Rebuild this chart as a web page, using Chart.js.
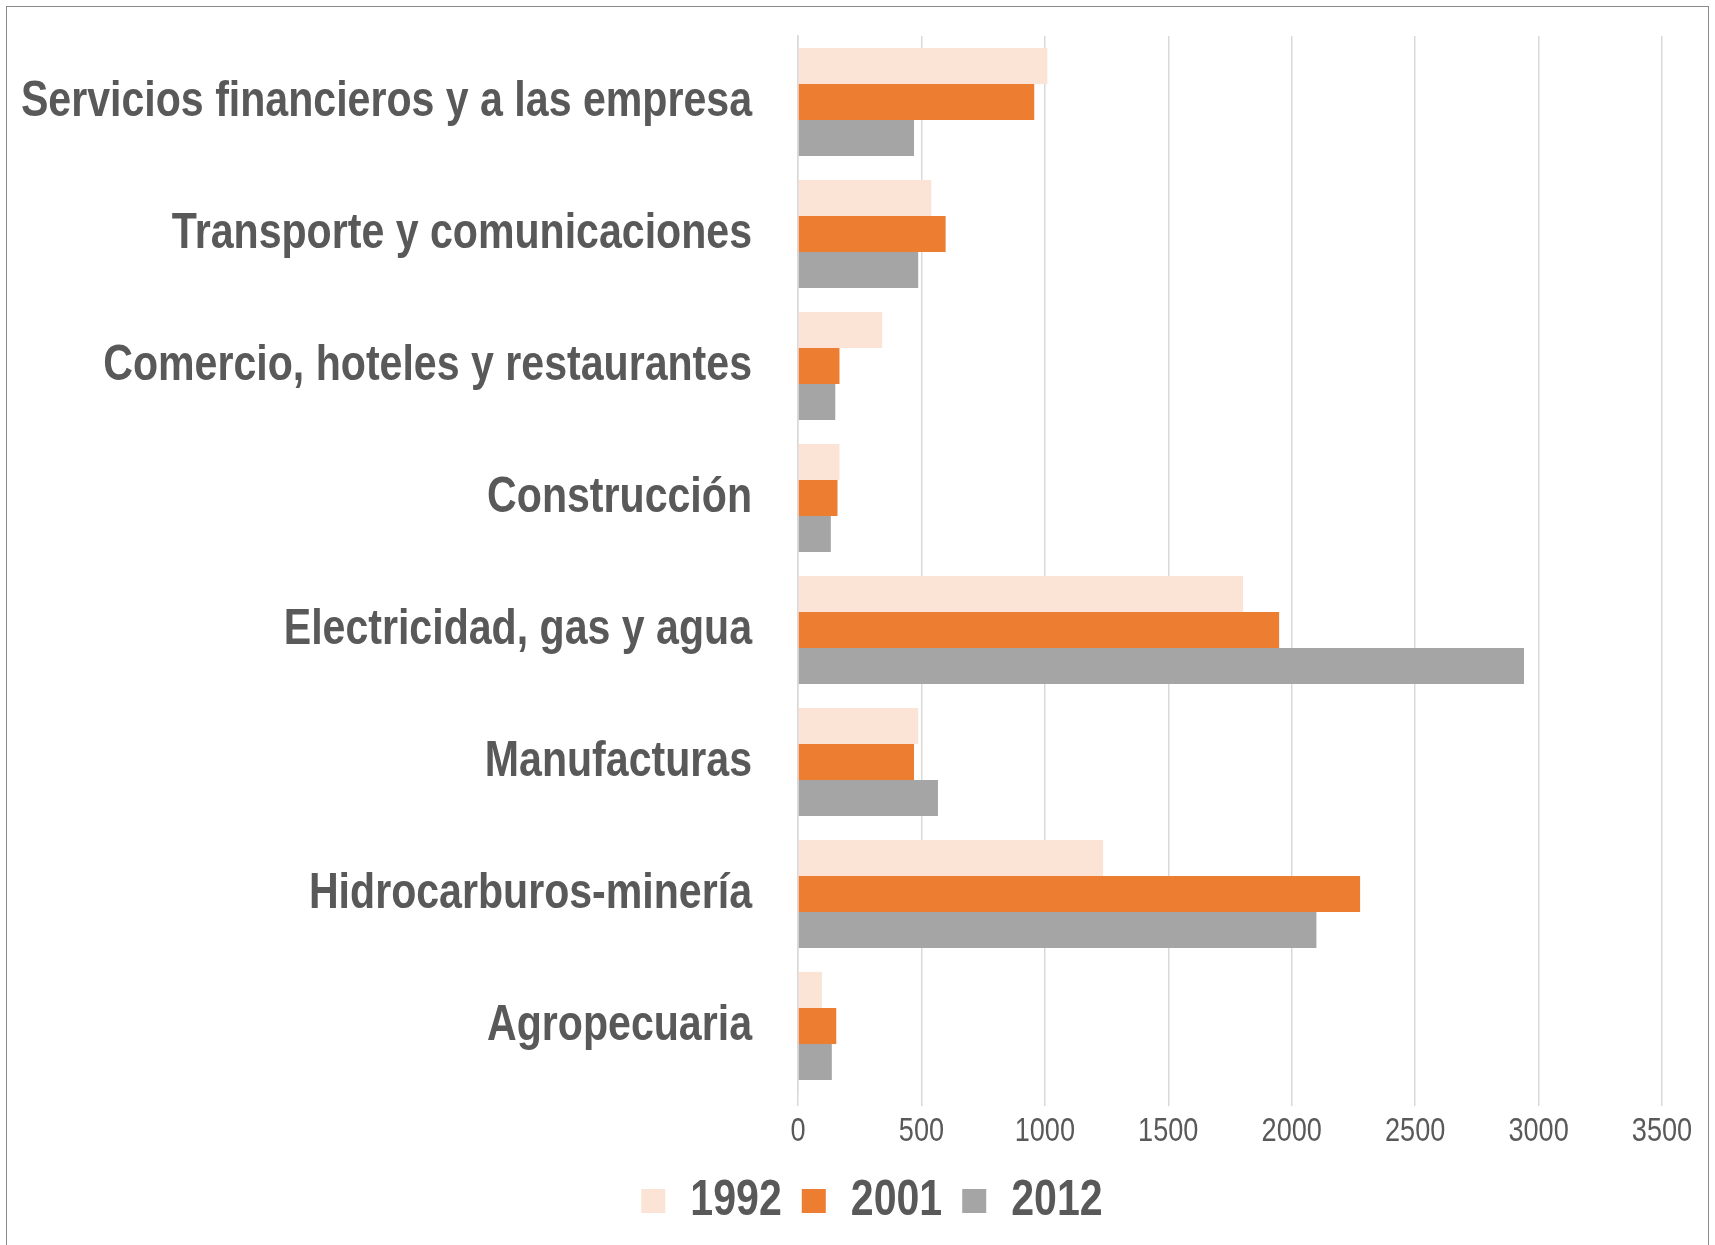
<!DOCTYPE html>
<html lang="es">
<head>
  <meta charset="UTF-8">
  <title>Bar Chart</title>
  <script src="https://cdn.jsdelivr.net/npm/chart.js"></script>
  <style>
    html, body { margin: 0; padding: 0; background: #fff; }
    .frame { position: absolute; left: 6px; top: 6px; width: 1701px; height: 1300px; border: 1px solid #8a8a8a; }
    #chart { position: absolute; left: 0; top: 0; }
  </style>
</head>
<body>
  <div class="frame"></div>
  <canvas id="chart" width="1715" height="1245"></canvas>

  <script>
    const sectors = [
      'Servicios financieros y a las empresa',
      'Transporte y comunicaciones',
      'Comercio, hoteles y restaurantes',
      'Construcción',
      'Electricidad, gas y agua',
      'Manufacturas',
      'Hidrocarburos-minería',
      'Agropecuaria'
    ];
    const years = ['1992', '2001', '2012'];
    const values1992 = [1010, 540, 341, 168, 1803, 487, 1236, 97];
    const values2001 = [957, 598, 168, 160, 1949, 470, 2277, 155];
    const values2012 = [470, 487, 151, 133, 2941, 567, 2100, 137];
    const xTicks = [0, 500, 1000, 1500, 2000, 2500, 3000, 3500];

    const font = "'Liberation Sans', Arial, sans-serif";
    const squeeze = 0.822; // no Arial Narrow here, so squash Liberation Sans sideways

    function narrowText(ctx) {
      const fill = ctx.fillText.bind(ctx);
      const measure = ctx.measureText.bind(ctx);
      ctx.fillText = function (text, x, y, maxWidth) {
        ctx.save();
        ctx.translate(x, y);
        ctx.scale(squeeze, 1);
        if (maxWidth === undefined) fill(text, 0, 0);
        else fill(text, 0, 0, maxWidth / squeeze);
        ctx.restore();
      };
      ctx.measureText = function (text) {
        const m = measure(text);
        return {
          width: m.width * squeeze,
          actualBoundingBoxLeft: m.actualBoundingBoxLeft * squeeze,
          actualBoundingBoxRight: m.actualBoundingBoxRight * squeeze,
          actualBoundingBoxAscent: m.actualBoundingBoxAscent,
          actualBoundingBoxDescent: m.actualBoundingBoxDescent
        };
      };
    }

    // the y labels are clipped to the axis box; let that box reach the canvas edge
    const widenLabelArea = {
      id: 'widenLabelArea',
      afterLayout(chart) { chart.scales.y.left = 0; }
    };

    function createBarChart() {
      const ctx = document.getElementById('chart').getContext('2d');
      narrowText(ctx);

      new Chart(ctx, {
        type: 'bar',
        data: {
          labels: sectors,
          datasets: [
            { label: years[0], data: values1992, backgroundColor: '#fbe4d6' },
            { label: years[1], data: values2001, backgroundColor: '#ed7d31' },
            { label: years[2], data: values2012, backgroundColor: '#a5a5a5' }
          ]
        },
        options: {
          indexAxis: 'y',
          responsive: false,
          animation: false,
          devicePixelRatio: 1,
          layout: { padding: { top: 36, right: 53, bottom: 9, left: 82 } },
          datasets: { bar: { barPercentage: 1, categoryPercentage: 0.82 } },
          plugins: {
            tooltip: { enabled: false },
            legend: {
              position: 'bottom',
              labels: {
                color: '#595959',
                font: { family: font, size: 50, weight: 'bold' },
                boxWidth: 24,
                boxHeight: 24,
                padding: 20
              }
            }
          },
          scales: {
            x: {
              min: 0,
              max: 3500,
              afterBuildTicks: (scale) => { scale.ticks = xTicks.map(v => ({ value: v })); },
              afterFit: (scale) => { scale.height = 64; },
              grid: { color: '#d9d9d9', lineWidth: 1.5, tickLength: 14 },
              border: { display: false },
              ticks: {
                color: '#595959',
                padding: 6,
                font: { family: font, size: 33 },
                callback: (v) => String(v)
              }
            },
            y: {
              afterFit: (scale) => {
                scale.width = 716;
                scale.paddingTop = 0;
                scale.paddingBottom = 0;
              },
              grid: { display: false, drawTicks: false },
              border: { color: '#d9d9d9', width: 1.5 },
              ticks: {
                color: '#595959',
                padding: 46,
                font: { family: font, size: 50, weight: 'bold' }
              }
            }
          }
        },
        plugins: [widenLabelArea]
      });
    }

    createBarChart();
  </script>
</body>
</html>
